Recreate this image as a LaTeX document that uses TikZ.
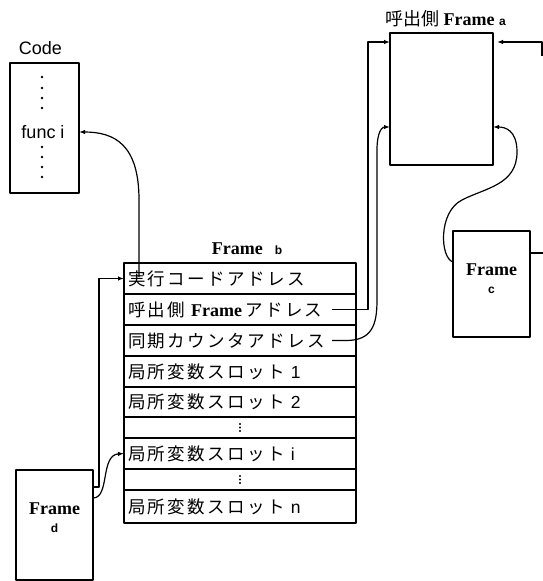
\documentclass[tikz,border=0pt]{standalone}
\usepackage{fontspec}
\setmainfont{Liberation Serif}
\newfontfamily\hv{Liberation Sans}
\newfontfamily\jp{Noto Sans CJK JP}
\newfontfamily\jps[LetterSpace=14]{Noto Sans CJK JP}
\usetikzlibrary{arrows.meta,positioning}

\begin{document}
\begin{tikzpicture}[x=1pt,y=-1pt,>={Latex[length=6pt,width=4.5pt]},line join=round,
  box/.style={draw,line width=1.4pt,inner sep=0pt,outer sep=0pt},
  slot/.style={box,minimum height=31pt,text width=224pt,inner xsep=4pt,align=left,
    font=\jps\fontsize{17.5}{20}\selectfont},
  gap/.style={box,minimum height=21pt,minimum width=232pt},
  fr/.style={font=\bfseries\fontsize{18}{20}\selectfont},
  sans/.style={font=\hv\fontsize{18}{20}\selectfont},
  link/.style={line width=1.2pt}]
  \useasboundingbox (0,0) rectangle (543,581);
  \newcommand\tagf{\hv\bfseries\fontsize{12}{12}\selectfont}

  % code area
  \node[box,minimum width=69pt,minimum height=130pt] (code) at (44.5,128) {};
  \node[sans,above=4.5pt of code,xshift=-4pt] (codet) {Code};
  \node[sans] (func) at (43,132) {func i};
  \foreach \y in {77,88,98,108,147,157,167,177}
    \fill (42,\y) circle (1.4);

  % frame b
  \node[slot] (r1) at (240,278.5) {実行コードアドレス};
  \node[slot,below=0pt of r1] (r2) {呼出側 {\rmfamily\bfseries\fontsize{18}{20}\selectfont Frame}\,アドレス};
  \node[slot,below=0pt of r2] (r3) {同期カウンタアドレス};
  \node[slot,below=0pt of r3] (r4) {局所変数スロット {\hv 1}};
  \node[slot,below=0pt of r4,minimum height=30pt] (r5) {局所変数スロット {\hv 2}};
  \node[gap,below=0pt of r5] (r6) {};
  \node[slot,below=0pt of r6] (r7) {局所変数スロット {\hv i}};
  \node[gap,below=0pt of r7] (r8) {};
  \node[slot,below=0pt of r8,minimum height=33pt] (r9) {局所変数スロット {\hv n}};
  \node[fr,above=5pt of r1,xshift=7pt] (tb) {Frame\hspace{12pt}{\tagf b}};
  \foreach \r in {r6,r8}
    \foreach \d in {-3.5,0,3.5}
      \fill ([yshift=\d pt]\r.center) circle (1.1);

  % frame a, c, d
  \node[box,minimum width=103pt,minimum height=132pt] (fa) at (441.5,99) {};
  \node[fr,above=3pt of fa,xshift=4pt] (ta) {{\jp\mdseries 呼出側} Frame {\tagf a}};
  \node[box,minimum width=77pt,minimum height=106pt] (fc) at (491.5,284) {};
  \node[fr,align=center] (tc) at ([yshift=5pt]fc.center) {Frame\\[-2pt]{\tagf c}};
  \node[box,minimum width=77pt,minimum height=110pt] (fd) at (54.5,525) {};
  \node[fr,align=center] (td) at ([yshift=7pt]fd.center) {Frame\\[-2pt]{\tagf d}};

  % pointers
  \coordinate (ea) at (542,56);
  \coordinate (ec) at (543,253);
  \draw[link,->] ([xshift=15pt,yshift=-14pt]r1.north west) -- (139,200)
    .. controls (139,145) and (115,132) .. (func -| code.east);
  \draw[link,->] ([yshift=-17pt]fd.north east) -- ++(6,0) |- (r1.west);
  \draw[link,->] ([yshift=-28pt]fd.north east) .. controls (110,498) and (100,455) .. (r7.west);
  \draw[link,->] ([xshift=-24pt]r2.east) -- ++(36,0) |- ([yshift=-9pt]fa.north west);
  \draw[link,->] ([xshift=-24pt]r3.east) -- ++(14,0)
    .. controls (372,340.5) and (377,325) .. (377,300) -- (377,150)
    .. controls (377,132) and (382,127) .. ([yshift=-28pt]fa.west);
  \draw[link,->] ([yshift=-31pt]fc.north west) .. controls (440,258) and (438,212) .. (462,200)
    .. controls (485,188) and (517,185) .. (517,152)
    .. controls (517,130) and (505,127) .. ([yshift=-28pt]fa.east);
  \draw[link,->,shorten >=4pt] (ea) |- ([yshift=-9pt]fa.north east);
  \draw[link] ([yshift=-22pt]fc.north east) -- (ec);
\end{tikzpicture}
\end{document}
